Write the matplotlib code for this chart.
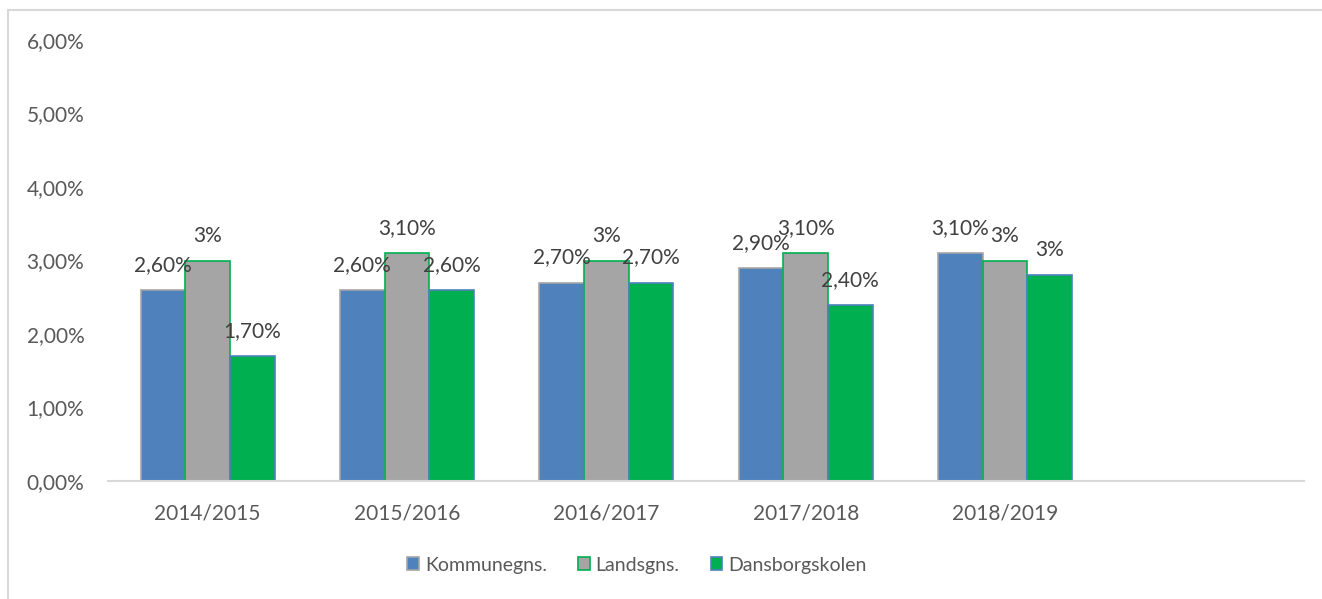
import numpy as np
import matplotlib
matplotlib.use("Agg")
import matplotlib.pyplot as plt
from matplotlib.lines import Line2D
from matplotlib.patches import Patch

# data (percent)
categories = ["2014/2015", "2015/2016", "2016/2017", "2017/2018", "2018/2019", ""]
kommune = [2.6, 2.6, 2.7, 2.9, 3.1]
lands = [3.0, 3.1, 3.0, 3.1, 3.0]
dansborg = [1.7, 2.6, 2.7, 2.4, 2.8]

kommune_labels = ["2,60%", "2,60%", "2,70%", "2,90%", "3,10%"]
lands_labels = ["3%", "3,10%", "3%", "3,10%", "3%"]
dansborg_labels = ["1,70%", "2,60%", "2,70%", "2,40%", "3%"]

series_names = ["Kommunegns.", "Landsgns.", "Dansborgskolen"]
yticks = [0, 1, 2, 3, 4, 5, 6]
ytick_labels = ["0,00%", "1,00%", "2,00%", "3,00%", "4,00%", "5,00%", "6,00%"]

# fill, edge
blue = "#4F81BD"
grey = "#A5A5A5"
green = "#00B050"
styles = [(blue, grey), (grey, green), (green, blue)]

plt.rcParams["font.family"] = ["Lato", "DejaVu Sans"]

W, H = 1322, 599
fig = plt.figure(figsize=(W / 100, H / 100), dpi=100)
ax = fig.add_axes([108 / W, 1 - 481 / H, (1304 - 108) / W, (481 - 40) / H])

# chart border: only top and left edges are visible in the original
fig.add_artist(Line2D([8 / W, 1.0], [1 - 10 / H, 1 - 10 / H], transform=fig.transFigure,
                      color="#D9D9D9", linewidth=1.5))
fig.add_artist(Line2D([8 / W, 8 / W], [0, 1 - 10 / H], transform=fig.transFigure,
                      color="#D9D9D9", linewidth=1.5))

x = np.arange(len(kommune))
w = 0.224
all_vals = [kommune, lands, dansborg]
all_labels = [kommune_labels, lands_labels, dansborg_labels]

for i, (vals, labs) in enumerate(zip(all_vals, all_labels)):
    face, edge = styles[i]
    pos = x + (i - 1) * w
    ax.bar(pos, vals, width=w, color=face, edgecolor=edge, linewidth=1.2, zorder=2)
    for xp, v, lab in zip(pos, vals, labs):
        ax.annotate(lab, (xp, v), xytext=(0, 18), textcoords="offset points",
                    ha="center", va="center", fontsize=15, color="#404040", zorder=3)

ax.set_xlim(-0.5, 5.5)
ax.set_ylim(0, 6)
ax.set_xticks(np.arange(len(categories)))
ax.set_xticklabels(categories, fontsize=15, color="#595959")
ax.set_yticks(yticks)
ax.set_yticklabels(ytick_labels, fontsize=15, color="#595959")
ax.tick_params(axis="both", length=0)
ax.tick_params(axis="x", pad=16)
ax.tick_params(axis="y", pad=17)

for s in ["top", "right", "left"]:
    ax.spines[s].set_visible(False)
ax.spines["bottom"].set_color("#D9D9D9")
ax.spines["bottom"].set_linewidth(1.5)

handles = [Patch(facecolor=f, edgecolor=e, linewidth=1.2) for f, e in styles]
fig.legend(handles, series_names, loc="center", bbox_to_anchor=(637 / W, 1 - 565 / H),
           ncol=3, frameon=False, fontsize=14, handlelength=0.6, handleheight=0.6,
           handletextpad=0.3, columnspacing=1.6, labelcolor="#595959")

fig.savefig("out.png", dpi=100)
